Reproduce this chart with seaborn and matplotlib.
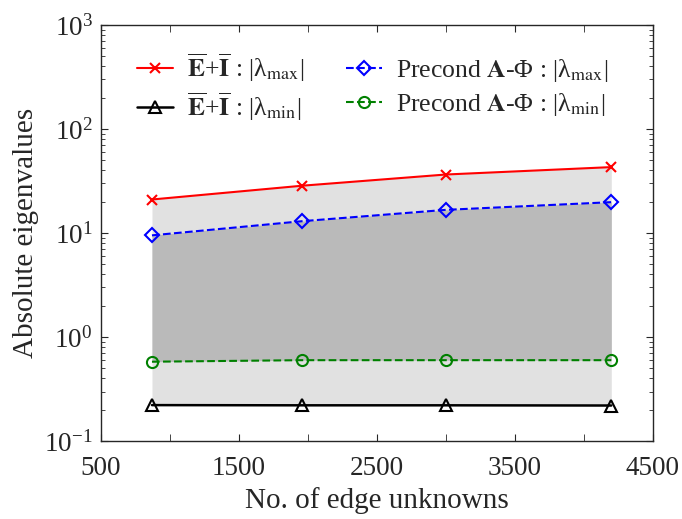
import matplotlib.pyplot as plt
import seaborn as sns
import pandas as pd
from matplotlib.ticker import LogLocator, NullFormatter

# Data
edges = [870, 1960, 3000, 4200]
ei_max = [21, 28.5, 36.5, 43]
ei_min = [0.222, 0.221, 0.221, 0.220]
pre_max = [9.5, 13, 16.7, 19.8]
pre_min = [0.58, 0.60, 0.60, 0.60]

lab_ei_max = r'$\overline{\mathbf{E}}$+$\overline{\mathbf{I}}$ : |λ$_{\mathrm{max}}$|'
lab_ei_min = r'$\overline{\mathbf{E}}$+$\overline{\mathbf{I}}$ : |λ$_{\mathrm{min}}$|'
lab_pre_max = r'Precond $\mathbf{A}$-Φ : |λ$_{\mathrm{max}}$|'
lab_pre_min = r'Precond $\mathbf{A}$-Φ : |λ$_{\mathrm{min}}$|'

sns.set_style('ticks')
plt.rcParams['font.family'] = ['Liberation Serif', 'DejaVu Serif']
plt.rcParams['mathtext.fontset'] = 'stix'

fig, ax = plt.subplots(figsize=(6.82, 5.19), dpi=100)
fig.subplots_adjust(left=0.148, right=0.957, top=0.952, bottom=0.15)

# Shaded bands
ax.fill_between(edges, ei_min, ei_max, color='#e1e1e1', lw=0, zorder=0)
ax.fill_between(edges, pre_min, pre_max, color='#bababa', lw=0, zorder=0)

df = pd.DataFrame({'x': edges, 'a': ei_max, 'b': ei_min, 'c': pre_max, 'd': pre_min})
sns.lineplot(data=df, x='x', y='a', ax=ax, color='red', marker='x', markersize=7,
             mew=1.5, mec='red', lw=1.5, label=lab_ei_max)
sns.lineplot(data=df, x='x', y='b', ax=ax, color='black', marker='^', markersize=9,
             mew=1.5, mfc='none', mec='black', lw=1.8, label=lab_ei_min)
sns.lineplot(data=df, x='x', y='c', ax=ax, color='blue', marker='D', markersize=7,
             mew=1.5, mfc='none', mec='blue', lw=1.5, ls='--', dashes=(4, 2), label=lab_pre_max)
sns.lineplot(data=df, x='x', y='d', ax=ax, color='green', marker='o', markersize=8,
             mew=1.5, mfc='none', mec='green', lw=1.5, ls='--', dashes=(4, 2), label=lab_pre_min)

ax.set_yscale('log')
ax.set_xlim(500, 4500)
ax.set_ylim(0.1, 1000)
ax.set_xticks([500, 1500, 2500, 3500, 4500])
ax.set_xticks([1000, 2000, 3000, 4000], minor=True)
ax.yaxis.set_major_locator(LogLocator(base=10, numticks=10))
ax.yaxis.set_minor_locator(LogLocator(base=10, subs=range(2, 10), numticks=10))
ax.yaxis.set_minor_formatter(NullFormatter())
ax.tick_params(which='both', direction='in', top=True, right=True, labelsize=19.5)
ax.tick_params(which='major', length=5)
ax.tick_params(which='minor', length=3)
ax.tick_params(axis='x', which='minor', length=5)
ax.tick_params(axis='x', which='major', pad=11)
ax.tick_params(axis='y', which='major', pad=6)
for s in ax.spines.values():
    s.set_linewidth(1.0)

ax.set_xlabel('No. of edge unknowns', fontsize=21, labelpad=4)
ax.set_ylabel('Absolute eigenvalues', fontsize=21, labelpad=4)

h, l = ax.get_legend_handles_labels()
ax.legend(h, l, ncol=2, loc='upper left', bbox_to_anchor=(0.047, 0.96),
          frameon=False, fontsize=18.5, handlelength=1.4, columnspacing=1.6,
          handletextpad=0.55, borderaxespad=0, labelspacing=0.25)

fig.savefig('out.png', dpi=100)
